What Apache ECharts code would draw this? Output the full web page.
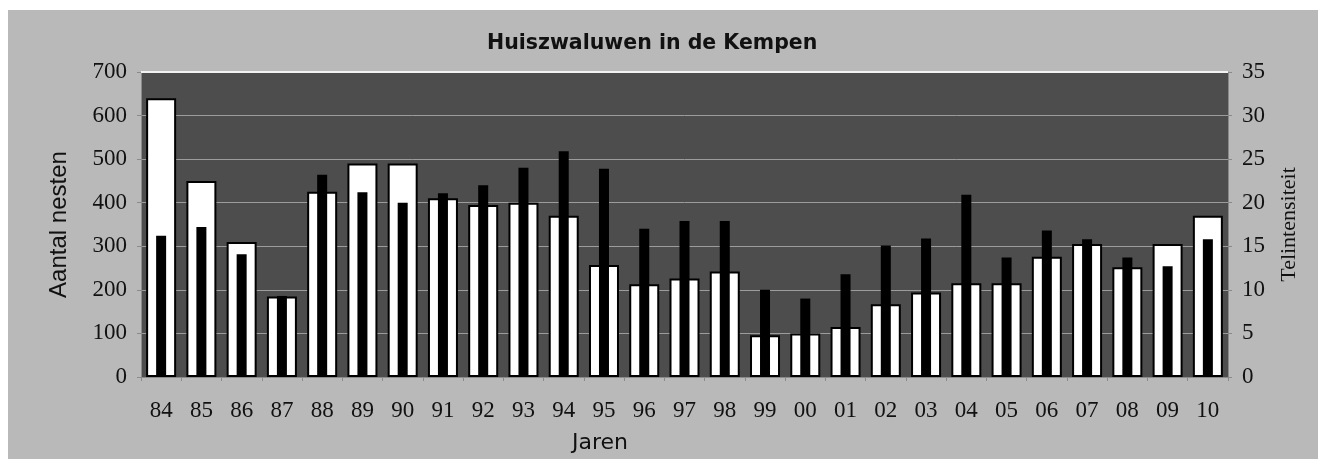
<!DOCTYPE html>
<html>
<head>
<meta charset="utf-8">
<script src="https://cdn.jsdelivr.net/npm/echarts@6/dist/echarts.min.js"></script>
<style>
html,body{margin:0;padding:0;background:#ffffff;}
#c{width:1324px;height:459px;}
</style>
</head>
<body>
<div id="c"></div>
<script>
var years = ['84','85','86','87','88','89','90','91','92','93','94','95','96','97','98','99','00','01','02','03','04','05','06','07','08','09','10'];
var nests = [640,450,310,185,425,490,490,410,395,400,370,257,213,226,242,96,100,115,167,194,215,215,276,305,252,305,370];
var intensity = [16.2,17.2,14.1,9.3,23.2,21.2,20,21.1,22,24,25.9,23.9,17,17.9,17.9,10,9,11.8,15.1,15.9,20.9,13.7,16.8,15.8,13.7,12.7,15.8];
var leftTicks = [0,100,200,300,400,500,600,700];
var rightTicks = [0,5,10,15,20,25,30,35];

var chart = echarts.init(document.getElementById('c'), null, {renderer:'canvas'});
var serif = 'Liberation Serif';
var sans = 'DejaVu Sans';
chart.setOption({
  animation:false,
  backgroundColor:'#ffffff',
  graphic:[
    {type:'rect', z:-10, shape:{x:8,y:10,width:1310,height:449}, style:{fill:'#b9b9b9'}},
    {type:'line', z:10, shape:{x1:141,y1:72,x2:1228,y2:72}, style:{stroke:'#f2f2f2',lineWidth:2}},
    {type:'text', left:572, top:432, style:{text:'Jaren', font:'22px "DejaVu Sans"', fill:'#111'}}
  ],
  title:{
    text:'Huiszwaluwen in de Kempen',
    left:482, top:28,
    textStyle:{fontFamily:sans, fontWeight:'bold', fontSize:20.5, color:'#111'}
  },
  grid:{left:141,right:96,top:72,bottom:82,show:true,backgroundColor:'#4d4d4d',borderColor:'#4d4d4d',borderWidth:0},
  xAxis:[
    {type:'category', data:years, position:'bottom',
     axisLine:{show:true,lineStyle:{color:'#8a8a8a',width:1}},
     axisTick:{show:true,length:4,lineStyle:{color:'#8a8a8a'}},
     axisLabel:{fontFamily:serif,fontSize:23,color:'#111',margin:22,interval:0}},
    {type:'category', data:years, position:'bottom', show:false}
  ],
  yAxis:[
    {type:'value', min:0, max:700, interval:100, position:'left',
     name:'Aantal nesten', nameLocation:'middle', nameGap:70,
     nameTextStyle:{fontFamily:'Liberation Sans',fontSize:24,color:'#111'},
     axisLine:{show:true,lineStyle:{color:'#8a8a8a'}},
     axisTick:{show:true,length:4,lineStyle:{color:'#8a8a8a'}},
     axisLabel:{fontFamily:serif,fontSize:23,color:'#111',margin:14,
       formatter:function(v){return leftTicks.indexOf(v)>=0?String(v):'';}},
     splitLine:{show:true,lineStyle:{color:'#9c9c9c',width:1}}},
    {type:'value', min:0, max:35, interval:5, position:'right',
     name:'Telintensiteit', nameLocation:'middle', nameGap:50,
     nameTextStyle:{fontFamily:serif,fontSize:22,color:'#111'},
     axisLine:{show:true,lineStyle:{color:'#8a8a8a'}},
     axisTick:{show:true,length:4,lineStyle:{color:'#8a8a8a'}},
     axisLabel:{fontFamily:serif,fontSize:23,color:'#111',margin:14,
       formatter:function(v){return rightTicks.indexOf(v)>=0?String(v):'';}},
     splitLine:{show:false}}
  ],
  series:[
    {name:'Aantal nesten', type:'bar', xAxisIndex:0, yAxisIndex:0, data:nests, barWidth:30,
     itemStyle:{color:'#ffffff', borderColor:'#000000', borderWidth:2}},
    {name:'Telintensiteit', type:'bar', xAxisIndex:1, yAxisIndex:1, data:intensity, barWidth:10,
     itemStyle:{color:'#000000'}, z:3}
  ]
});
</script>
</body>
</html>
